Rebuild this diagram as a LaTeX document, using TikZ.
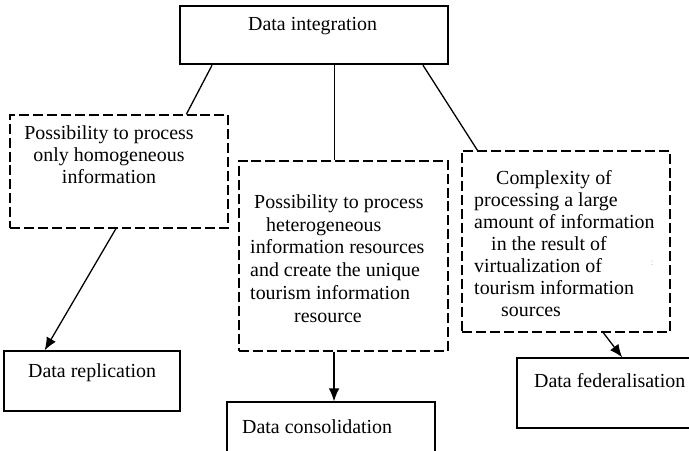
\documentclass[tikz,border=0pt]{standalone}
\usepackage{fontspec}
\setmainfont{Liberation Serif}
\usepackage{xcolor}
\usetikzlibrary{shapes, arrows.meta, positioning, calc}
\definecolor{speck}{RGB}{140,190,235}

\tikzset{
  solidbox/.style={draw, line width=1.1pt, inner sep=0pt},
  dashbox/.style={draw, line width=1.1pt, dash pattern=on 8.5pt off 3.4pt, inner sep=0pt},
  txt/.style={inner sep=0pt, font=\fontsize{17}{18.8}\selectfont},
  link/.style={line width=1.1pt},
  arr/.style={line width=1.1pt, -{Latex[length=11pt,width=9pt]}},
}

\begin{document}
\begin{tikzpicture}[x=0.03cm, y=-0.03cm]
\useasboundingbox (0,0) rectangle (689,451);

% Top level
\node[solidbox, line width=2.1pt, minimum width=268*0.03cm, minimum height=58*0.03cm] (integ) at (314,35) {};
\node[txt, anchor=base west] (integ-t) at (248,31) {Data integration};

% Conditions (dashed)
\node[dashbox, minimum width=218*0.03cm, minimum height=113*0.03cm] (poss1) at (119,171.5) {};
\node[txt, anchor=north, align=center] (poss1-t) at (109,125)
  {Possibility to process\\only homogeneous\\information};

\node[dashbox, minimum width=209*0.03cm, minimum height=190*0.03cm] (poss2) at (343.5,256) {};
\node[txt, anchor=north west, align=left, font=\fontsize{17}{19.6}\selectfont] (poss2-t) at (250,194)
  {\hspace*{0.12cm}Possibility to process\\
   \hspace*{0.48cm}heterogeneous\\
   information resources\\
   and create the unique\\
   tourism information\\
   \hspace*{1.32cm}resource};

\node[dashbox, minimum width=208*0.03cm, minimum height=181*0.03cm] (cplx) at (566,241.5) {};
\node[txt, anchor=north west, align=left] (cplx-t) at (474,170)
  {\hspace*{0.66cm}Complexity of\\
   processing a large\\
   amount of information\\
   \hspace*{0.51cm}in the result of\\
   virtualization of\\
   tourism information\\
   \hspace*{0.81cm}sources};
\node[inner sep=0pt, text=speck, font=\fontsize{8}{8}\selectfont] (speck) at (652,263) {:};

% Results
\node[solidbox, minimum width=176*0.03cm, minimum height=60*0.03cm] (repl) at (92,381) {};
\node[txt, anchor=base west] (repl-t) at (28,377) {Data replication};

\node[solidbox, minimum width=208*0.03cm, minimum height=68*0.03cm] (consol) at (331,436) {};
\node[txt, anchor=base west] (consol-t) at (242,433) {Data consolidation};

\node[solidbox, minimum width=188*0.03cm, minimum height=70*0.03cm] (fed) at (611,393) {};
\node[txt, anchor=base west] (fed-t) at (534,387) {Data federalisation};

% Links from the top box
\draw[link] ($(integ.south west)!.123!(integ.south east)$) -- ($(poss1.north west)!.807!(poss1.north east)$);
\coordinate (mid) at ($(integ.south west)!.575!(integ.south east)$);
\draw[link] (mid) -- (mid |- poss2.north);
\draw[link] ($(integ.south west)!.903!(integ.south east)$) -- ($(cplx.north west)!.077!(cplx.north east)$);

% Arrows to the results
\draw[arr] ($(poss1.south west)!.486!(poss1.south east)$) -- ($(repl.north west)!.233!(repl.north east)$);
\coordinate (low) at ($(poss2.south west)!.455!(poss2.south east)$);
\draw[arr] (low) -- (low |- consol.north);
\draw[arr] ($(cplx.south west)!.678!(cplx.south east)$) -- ($(fed.north west)!.559!(fed.north east)$);

\end{tikzpicture}
\end{document}
